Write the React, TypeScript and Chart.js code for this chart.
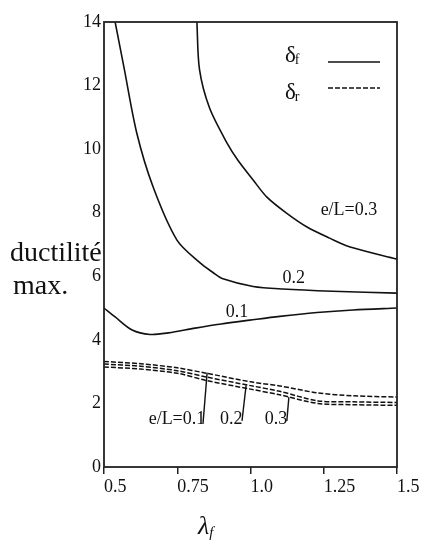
import React, { useEffect, useRef } from "react";
import { Chart, registerables } from "chart.js";

Chart.register(...registerables);

// λ values and ductility for the solid (δf) curves, one pair per e/L
const solid01X = [0.5, 0.538, 0.596, 0.657, 0.72, 0.811, 0.9, 0.998, 1.1, 1.227, 1.35, 1.5];
const solid01Y = [5.0, 4.72, 4.31, 4.17, 4.22, 4.37, 4.5, 4.62, 4.74, 4.86, 4.94, 5.0];

const solid02X = [0.538, 0.568, 0.612, 0.668, 0.749, 0.828, 0.872, 0.906, 1.009, 1.11, 1.28, 1.5];
const solid02Y = [14.0, 12.58, 10.5, 8.8, 7.14, 6.42, 6.12, 5.92, 5.68, 5.6, 5.53, 5.47];

const solid03X = [0.817, 0.826, 0.86, 0.92, 0.957, 1.009, 1.056, 1.124, 1.193, 1.27, 1.34, 1.5];
const solid03Y = [14.0, 12.5, 11.3, 10.19, 9.65, 9.03, 8.49, 7.98, 7.55, 7.2, 6.92, 6.54];

// λ values and ductility for the dashed (δr) curves
const dashedX = [0.5, 0.625, 0.75, 0.85, 1.0, 1.1, 1.23, 1.35, 1.5];
const dashed01Y = [3.32, 3.25, 3.12, 2.95, 2.68, 2.55, 2.33, 2.24, 2.2];
const dashed02Y = [3.24, 3.17, 3.03, 2.83, 2.56, 2.38, 2.08, 2.05, 2.03];
const dashed03Y = [3.15, 3.08, 2.95, 2.72, 2.45, 2.27, 2.0, 1.96, 1.94];

// axis ticks
const xTickValues = [0.5, 0.75, 1.0, 1.25, 1.5];
const xTickLabels = ["0.5", "0.75", "1.0", "1.25", "1.5"];
const yTickLabels = ["0", "2", "4", "6", "8", "10", "12", "14"];

// curve annotations: [text, λ, ductility]
const curveLabels: [string, number, number][] = [
  ["e/L=0.3", 1.336, 8.08],
  ["0.2", 1.148, 5.94],
  ["0.1", 0.954, 4.87],
  ["e/L=0.1", 0.749, 1.51],
  ["0.2", 0.934, 1.51],
  ["0.3", 1.087, 1.51],
];

// leader lines from the lower labels to their dashed curves: [λ0, y0, λ1, y1]
const leaderLines: [number, number, number, number][] = [
  [0.838, 1.38, 0.852, 2.97],
  [0.971, 1.45, 0.985, 2.57],
  [1.124, 1.45, 1.131, 2.2],
];

const INK = "#111";
const SERIF = "'Liberation Serif', 'DejaVu Serif', serif";

const toPoints = (xs: number[], ys: number[]) => xs.map((x, i) => ({ x, y: ys[i] }));

const framePlugin = {
  id: "frameAndText",
  afterDraw(chart: any) {
    const { ctx, chartArea, scales } = chart;
    const xs = scales.x;
    const ys = scales.y;
    ctx.save();

    // box around the plotting area
    ctx.strokeStyle = "#222";
    ctx.lineWidth = 1.8;
    ctx.strokeRect(chartArea.left, chartArea.top, chartArea.right - chartArea.left, chartArea.bottom - chartArea.top);

    // curve annotations
    ctx.fillStyle = INK;
    ctx.font = `18px ${SERIF}`;
    ctx.textAlign = "center";
    ctx.textBaseline = "middle";
    curveLabels.forEach(([t, lx, ly]) => {
      ctx.fillText(t, xs.getPixelForValue(lx), ys.getPixelForValue(ly));
    });

    // leader lines
    ctx.strokeStyle = INK;
    ctx.lineWidth = 1.4;
    leaderLines.forEach(([x0, y0, x1, y1]) => {
      ctx.beginPath();
      ctx.moveTo(xs.getPixelForValue(x0), ys.getPixelForValue(y0));
      ctx.lineTo(xs.getPixelForValue(x1), ys.getPixelForValue(y1));
      ctx.stroke();
    });

    // legend (δf solid, δr dashed)
    const drawSym = (sub: string, x: number, y: number) => {
      ctx.textAlign = "left";
      ctx.textBaseline = "alphabetic";
      ctx.font = `23px ${SERIF}`;
      ctx.fillText("δ", x, y);
      const w = ctx.measureText("δ").width;
      ctx.font = `14px ${SERIF}`;
      ctx.fillText(sub, x + w - 1, y + 2);
    };
    drawSym("f", 285, 62);
    drawSym("r", 285, 99);
    ctx.lineWidth = 1.5;
    ctx.beginPath();
    ctx.moveTo(328, 62);
    ctx.lineTo(380, 62);
    ctx.stroke();
    ctx.setLineDash([5, 2]);
    ctx.beginPath();
    ctx.moveTo(328, 88);
    ctx.lineTo(380, 88);
    ctx.stroke();
    ctx.setLineDash([]);

    // y-axis title
    ctx.font = `28px ${SERIF}`;
    ctx.textAlign = "left";
    ctx.textBaseline = "alphabetic";
    ctx.fillText("ductilité", 10, 261);
    ctx.fillText("max.", 13, 294);

    // x-axis title λf
    ctx.font = `italic 26px ${SERIF}`;
    ctx.fillText("λ", 198, 534);
    const lw = ctx.measureText("λ").width;
    ctx.font = `italic 15px ${SERIF}`;
    ctx.fillText("f", 198 + lw, 537);

    ctx.restore();
  },
};

export default function App() {
  const ref = useRef<HTMLCanvasElement | null>(null);

  useEffect(() => {
    if (!ref.current) return;
    const solid = { borderColor: INK, borderWidth: 1.6, pointRadius: 0, tension: 0.3, fill: false };
    const dashed = { ...solid, borderWidth: 1.5, borderDash: [5, 2] };
    const chart = new Chart(ref.current, {
      type: "line",
      data: {
        datasets: [
          { label: "δf e/L=0.1", data: toPoints(solid01X, solid01Y), ...solid },
          { label: "δf e/L=0.2", data: toPoints(solid02X, solid02Y), ...solid },
          { label: "δf e/L=0.3", data: toPoints(solid03X, solid03Y), ...solid },
          { label: "δr e/L=0.1", data: toPoints(dashedX, dashed01Y), ...dashed },
          { label: "δr e/L=0.2", data: toPoints(dashedX, dashed02Y), ...dashed },
          { label: "δr e/L=0.3", data: toPoints(dashedX, dashed03Y), ...dashed },
        ],
      },
      options: {
        responsive: false,
        animation: false,
        layout: { padding: { top: 22, right: 26, left: 0, bottom: 0 } },
        plugins: { legend: { display: false }, tooltip: { enabled: false } },
        scales: {
          x: {
            type: "linear",
            min: 0.5,
            max: 1.5,
            afterFit: (s: any) => { s.height = 73; },
            afterBuildTicks: (s: any) => { s.ticks = xTickValues.map((v) => ({ value: v })); },
            border: { display: false },
            grid: { display: true, drawOnChartArea: false, drawTicks: true, tickLength: 7, color: "#222", lineWidth: 1.5 },
            ticks: {
              align: "start",
              autoSkip: false,
              maxRotation: 0,
              padding: 2,
              color: INK,
              font: { family: SERIF, size: 18 },
              callback: (_v: any, i: number) => xTickLabels[i],
            },
          },
          y: {
            type: "linear",
            min: 0,
            max: 14,
            afterFit: (s: any) => { s.width = 104; },
            border: { display: false },
            grid: { display: false, drawTicks: false },
            ticks: {
              stepSize: 2,
              padding: 3,
              color: INK,
              font: { family: SERIF, size: 18 },
              callback: (_v: any, i: number) => yTickLabels[i],
            },
          },
        },
      },
      plugins: [framePlugin],
    });
    return () => chart.destroy();
  }, []);

  return (
    <div style={{ position: "absolute", left: 0, top: 0, width: 423, height: 540, background: "#fff" }}>
      <canvas ref={ref} width={423} height={540} style={{ display: "block" }} />
    </div>
  );
}
